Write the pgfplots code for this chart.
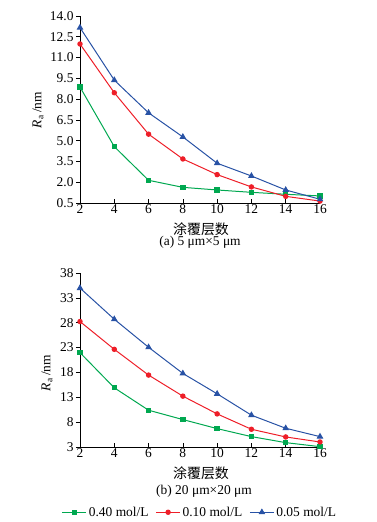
\documentclass[border=0pt]{standalone}
\usepackage{pgfplots}
\pgfplotsset{compat=1.18}
\usepackage{fontspec}
\setmainfont{Liberation Serif}
\newfontfamily\cjk{Noto Sans CJK SC}
\definecolor{cgreen}{RGB}{0,168,80}
\definecolor{cred}{RGB}{238,30,40}
\definecolor{cblue}{RGB}{40,82,165}
\newcommand\fs{\fontsize{13.5}{13.5}\selectfont}
\pgfplotsset{
  myaxis/.style={
    scale only axis, width=240bp,
    axis lines*=left,
    axis line style={line width=0.7pt},
    xmin=2, xmax=16, xtick={2,4,...,16},
    tick style={black, line width=0.6pt},
    xtick align=inside, ytick align=outside,
    major tick length=4bp,
    tick label style={font=\fs},
    /pgf/number format/assume math mode=true,
    clip=false,
    every axis plot/.append style={line width=1pt, mark size=2.2pt},
  }
}
\begin{document}
\begin{tikzpicture}
\useasboundingbox (0bp,0bp) rectangle (377bp,-522bp);
% top axis
\begin{axis}[myaxis, height=187bp, at={(80bp,-203bp)}, anchor=south west,
  ymin=0.5, ymax=14, ytick={0.5,2,...,14},
  yticklabel style={xshift=1bp, /pgf/number format/.cd, fixed, fixed zerofill, precision=1},
  xticklabel style={yshift=2bp},
  ]
\addplot[cgreen, mark=square*] coordinates {(2,8.87)(4,4.57)(6,2.14)(8,1.63)(10,1.44)(12,1.27)(14,1.13)(16,1.01)};
\addplot[cred, mark=*] coordinates {(2,11.98)(4,8.46)(6,5.47)(8,3.68)(10,2.55)(12,1.66)(14,0.98)(16,0.64)};
\addplot[cblue, mark=triangle*, mark size=2.9pt] coordinates {(2,13.16)(4,9.37)(6,7.01)(8,5.27)(10,3.37)(12,2.45)(14,1.44)(16,0.77)};
\end{axis}
% bottom axis
\begin{axis}[myaxis, height=174bp, at={(80bp,-447bp)}, anchor=south west,
  ymin=3, ymax=38, ytick={3,8,...,38},
  yticklabel style={xshift=1bp},
  xticklabel style={yshift=2bp},
  legend style={at={(0.5,-0.375)}, anchor=center, draw=none, legend columns=3,
    font=\fs, /tikz/every even column/.append style={column sep=5bp},
    inner sep=0pt},
  legend image code/.code={\draw[#1, mark repeat=2, mark phase=2] plot coordinates {(0bp,0bp) (12bp,0bp) (24bp,0bp)};},
  ]
\addplot[cgreen, mark=square*] coordinates {(2,21.98)(4,14.91)(6,10.4)(8,8.52)(10,6.7)(12,5.09)(14,3.88)(16,3.07)};
\addplot[cred, mark=*] coordinates {(2,28.24)(4,22.65)(6,17.47)(8,13.23)(10,9.66)(12,6.57)(14,5.02)(16,4.01)};
\addplot[cblue, mark=triangle*, mark size=2.9pt] coordinates {(2,34.97)(4,28.7)(6,23.06)(8,17.8)(10,13.7)(12,9.4)(14,6.77)(16,5.09)};
\legend{0.40 mol/L, 0.10 mol/L, 0.05 mol/L}
\end{axis}
% labels
\node[rotate=90, font=\fs] at (38bp,-110bp) {\textit{R}\textsubscript{a}\,/nm};
\node[rotate=90, font=\fs] at (47bp,-373bp) {\textit{R}\textsubscript{a}\,/nm};
\node[font=\fontsize{14}{14}\selectfont\cjk] at (201bp,-229bp) {涂覆层数};
\node[font=\fontsize{14}{14}\selectfont\cjk] at (201bp,-473bp) {涂覆层数};
\node[font=\fs] at (200bp,-242bp) {(a) 5 μm×5 μm};
\node[font=\fs] at (204bp,-491bp) {(b) 20 μm×20 μm};
\end{tikzpicture}
\end{document}
